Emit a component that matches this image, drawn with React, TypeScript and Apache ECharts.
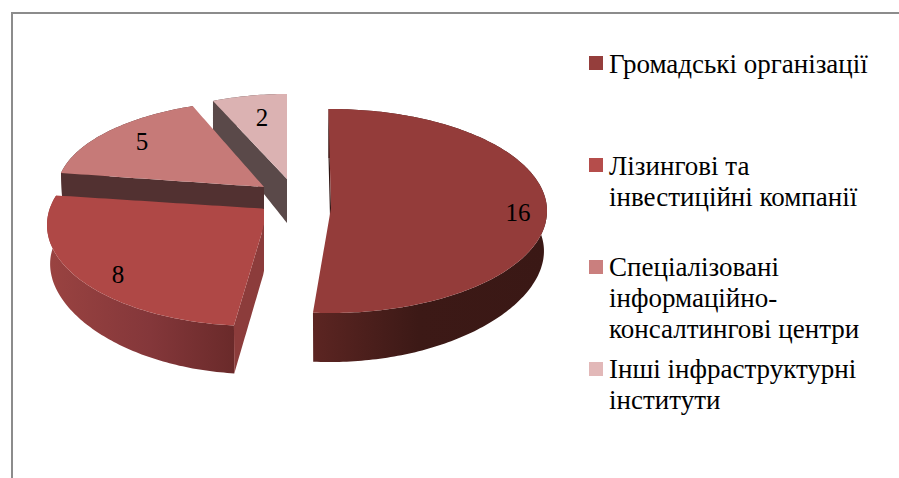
import React, { useEffect, useRef } from "react";
import * as echarts from "echarts";

const categories = [
  "Громадські організації",
  "Лізингові та\nінвестиційні компанії",
  "Спеціалізовані\nінформаційно-\nконсалтингові центри",
  "Інші інфраструктурні\nінститути",
];
const values = [16, 8, 5, 2];
const drawOrder = [3, 2, 1, 0];

const topColors = ["#943c3a", "#af4846", "#c67a78", "#dbb2b2"];
const legendColors = ["#953e3c", "#b54d4b", "#ca7f7e", "#e2b8b8"];
const startWallColors = ["#2e1412", "#8c3c3b", "#523131", "#5a4949"];
const outerWallStops = [
  ["#5c2522", "#3c1916", "#3a1815"],
  ["#9a4341", "#84373a", "#6a2a2a"],
  ["#523131", "#523131", "#523131"],
  ["#5a4949", "#5a4949", "#5a4949"],
];
const outerWallMid = [0.45, 0.55, 0.5, 0.5];

// Perspective layout of each exploded slice: rim ellipse, apex, extrusion, label position
const layouts = [
  { cx: 330, cy: 211, rx: 217, ry: 102, ax: 331, ay: 208, skew: [-0.4, -1.3], dRim: 49, drop: 9, dApex: 49, k: 0.986, clampX: 9999, lx: 518, ly: 212 },
  { cx: 255, cy: 225, rx: 208, ry: 101, ax: 269, ay: 209, skew: [0, 8.3], dRim: 48, drop: 9, dApex: 46, k: 0.985, clampX: 264, lx: 118, ly: 274 },
  { cx: 265, cy: 190.5, rx: 208, ry: 90, ax: 264, ay: 187, skew: [2.5, 2.9], dRim: 45, drop: 0, dApex: 45, k: 0.99, clampX: 9999, lx: 142, ly: 141 },
  { cx: 287, cy: 182, rx: 190, ry: 88, ax: 287, ay: 179, skew: [0.3, 0], dRim: 29, drop: 0, dApex: 44, k: 1, clampX: 9999, lx: 262, ly: 117 },
];

const legendTextTop = [48, 150, 251, 353];
const legendIconTop = [56, 158, 260, 362];

const total = values.reduce((a, b) => a + b, 0);
const FONT = '"Liberation Serif", "Times New Roman", serif';

function renderSlice(_params: any, api: any) {
  const val = api.value(0) as number;
  const i = api.value(1) as number;
  const g = layouts[i];
  let before = 0;
  for (let j = 0; j < i; j++) before += values[j];
  const a0 = (before / total) * 360 + g.skew[0];
  const a1 = ((before + val) / total) * 360 + g.skew[1];

  const rim = (deg: number, low = false): number[] => {
    const t = (deg * Math.PI) / 180;
    const s = Math.sin(t);
    const k = low ? g.k : 1;
    const down = low ? g.dRim - g.drop * s * s : 0;
    return [g.cx + g.rx * k * s, g.cy - g.ry * Math.cos(t) + down];
  };
  const clamp = (pts: number[][]) => pts.map((p) => [Math.min(p[0], g.clampX), p[1]]);
  const seg = (p: number[], q: number[]) => {
    const out: number[][] = [];
    for (let n = 0; n <= 30; n++) {
      out.push([p[0] + ((q[0] - p[0]) * n) / 30, p[1] + ((q[1] - p[1]) * n) / 30]);
    }
    return out;
  };
  const arc = (from: number, to: number, low = false) => {
    const out: number[][] = [];
    const steps = Math.max(8, Math.ceil(Math.abs(to - from)));
    for (let n = 0; n <= steps; n++) out.push(rim(from + ((to - from) * n) / steps, low));
    return out;
  };
  const apex = [g.ax, g.ay];
  const apexLow = [g.ax, g.ay + g.dApex];

  const outerPts = clamp([...arc(a0, a1), ...arc(a1, a0, true)]);
  const startPts = clamp([...seg(rim(a0), apex), ...seg(apexLow, rim(a0, true))]);
  const topPts = clamp([...seg(apex, rim(a0)), ...arc(a0, a1), ...seg(rim(a1), apex)]);
  const stops = outerWallStops[i];
  const outerFill = new echarts.graphic.LinearGradient(0, 0, 1, 0, [
    { offset: 0, color: stops[0] },
    { offset: outerWallMid[i], color: stops[1] },
    { offset: 1, color: stops[2] },
  ]);

  return {
    type: "group",
    children: [
      { type: "polygon", shape: { points: outerPts }, style: { fill: outerFill } },
      { type: "polygon", shape: { points: startPts }, style: { fill: startWallColors[i] } },
      { type: "polygon", shape: { points: topPts }, style: { fill: topColors[i] } },
      {
        type: "text",
        x: g.lx,
        y: g.ly,
        style: {
          text: String(val),
          font: `25px ${FONT}`,
          fill: "#000000",
          align: "center",
          verticalAlign: "middle",
        },
      },
    ],
  };
}

export default function App() {
  const ref = useRef<HTMLDivElement>(null);
  useEffect(() => {
    document.body.style.margin = "0";
    const chart = echarts.init(ref.current as HTMLDivElement, null, { renderer: "svg" });
    chart.setOption({
      animation: false,
      backgroundColor: "#ffffff",
      graphic: {
        elements: [
          { type: "rect", shape: { x: 11, y: 12, width: 888, height: 2 }, style: { fill: "#8c8c8c" } },
          { type: "rect", shape: { x: 11, y: 12, width: 2, height: 466 }, style: { fill: "#8c8c8c" } },
          ...categories.flatMap((name, i) => [
            {
              type: "rect",
              shape: { x: 589, y: legendIconTop[i], width: 14, height: 14 },
              style: { fill: legendColors[i] },
            },
            {
              type: "text",
              x: 609,
              y: legendTextTop[i],
              style: {
                text: name,
                font: `27px ${FONT}`,
                lineHeight: 31,
                fill: "#000000",
                align: "left",
                verticalAlign: "top",
              },
            },
          ]),
        ],
      },
      series: [
        {
          type: "custom",
          coordinateSystem: "none",
          silent: true,
          renderItem: renderSlice,
          data: drawOrder.map((i) => [values[i], i]),
        },
      ],
    });
    return () => chart.dispose();
  }, []);
  return (
    <div
      ref={ref}
      style={{ position: "absolute", left: 0, top: 0, width: 899, height: 478 }}
    />
  );
}
